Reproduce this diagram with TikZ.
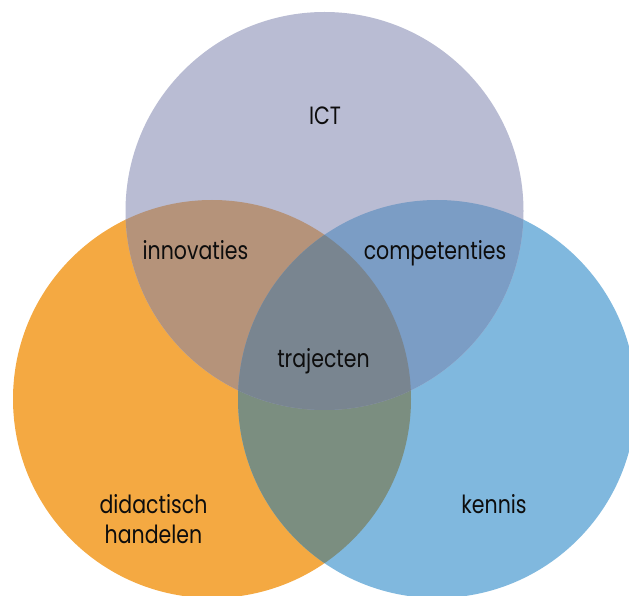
\documentclass[tikz,border=0pt]{standalone}
\usepackage{fontspec}
\setmainfont{Poppins}[FakeStretch=0.82]
\definecolor{cT}{HTML}{B9BCD3}
\definecolor{cL}{HTML}{F4A942}
\definecolor{cR}{HTML}{80B8DE}
\definecolor{cLT}{HTML}{B5937A}
\definecolor{cRT}{HTML}{7B9DC5}
\definecolor{cLR}{HTML}{7B8E80}
\definecolor{cLRT}{HTML}{798590}
\tikzset{lbl/.style={inner sep=0pt, anchor=base, text=black!95, font=\fontsize{25}{30}\selectfont, align=center}}
\begin{document}
\begin{tikzpicture}[x=1pt,y=1pt]
\useasboundingbox (0,0) rectangle (629,595);
\begin{scope}
\clip (0,0) rectangle (629,595);
\def\circT{(324.5,384) circle[radius=199]}
\def\circL{(212,196) circle[radius=199]}
\def\circR{(437,196) circle[radius=199]}
\fill[cL] \circL;
\fill[cR] \circR;
\fill[cT] \circT;
\begin{scope}\clip \circL; \fill[cLR] \circR; \end{scope}
\begin{scope}\clip \circL; \fill[cLT] \circT; \end{scope}
\begin{scope}\clip \circR; \fill[cRT] \circT; \end{scope}
\begin{scope}\clip \circL; \clip \circR; \fill[cLRT] \circT; \end{scope}
\end{scope}
\node[lbl] (ict) at (325,470) {ICT};
\node[lbl] (inno) at (195.5,335) {innovaties};
\node[lbl] (comp) at (435,335) {competenties};
\node[lbl] (traj) at (323.5,227) {trajecten};
\node[lbl] (dida) at (153.5,52) {didactisch\\handelen};
\node[lbl] (kenn) at (494,82) {kennis};
\end{tikzpicture}
\end{document}
